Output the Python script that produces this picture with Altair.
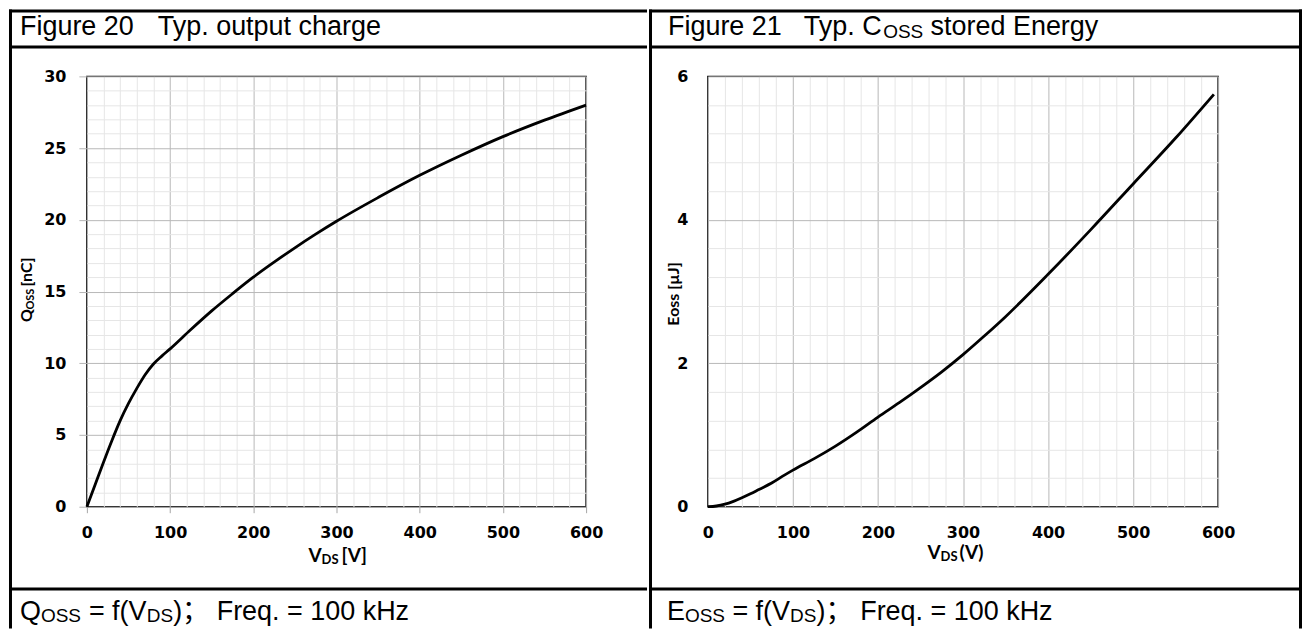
import altair as alt
import pandas as pd

# ---------------- data ----------------
# Figure 20: typical output charge Q_OSS [nC] vs V_DS [V]
q_vds = [0, 10, 20, 30, 40, 50, 60, 70, 80, 90, 100, 125, 150, 175, 200, 225,
         250, 275, 300, 350, 400, 450, 500, 550, 600]
q_oss = [0, 1.55, 3.1, 4.6, 6.0, 7.2, 8.25, 9.2, 9.95, 10.5, 11.0, 12.35, 13.65,
         14.85, 16.0, 17.05, 18.05, 19.0, 19.9, 21.55, 23.1, 24.5, 25.8, 26.95, 28.0]

# Figure 21: typical Coss stored energy E_OSS [uJ] vs V_DS [V]
e_vds = [0, 10, 20, 30, 40, 50, 60, 75, 90, 100, 125, 150, 175, 200, 225, 250,
         275, 300, 325, 350, 400, 450, 500, 550, 595]
e_oss = [0, 0.01, 0.035, 0.075, 0.125, 0.18, 0.24, 0.33, 0.44, 0.51, 0.67, 0.845,
         1.04, 1.25, 1.45, 1.66, 1.88, 2.12, 2.38, 2.65, 3.24, 3.86, 4.50, 5.14, 5.75]

vds_major = [0, 100, 200, 300, 400, 500, 600]
vds_minor = [20, 40, 60, 80, 120, 140, 160, 180, 220, 240, 260, 280, 320, 340,
             360, 380, 420, 440, 460, 480, 520, 540, 560, 580]
q_major = [0, 5, 10, 15, 20, 25, 30]
q_minor = [1, 2, 3, 4, 6, 7, 8, 9, 11, 12, 13, 14, 16, 17, 18, 19, 21, 22, 23,
           24, 26, 27, 28, 29]
e_major = [0, 2, 4, 6]
e_minor = [0.4, 0.8, 1.2, 1.6, 2.4, 2.8, 3.2, 3.6, 4.4, 4.8, 5.2, 5.6]

fig20_num = "Figure 20"
fig20_title = "Typ. output charge"
fig21_num = "Figure 21"

# ---------------- styling ----------------
TABLE_FONT = "Liberation Sans, Arial, Noto Sans CJK SC, sans-serif"
TICK_FONT = "DejaVu Sans"
TITLE_FONT = "Lato"
MAJOR = "#b8b8b8"
MINOR = "#e6e6e6"

one = pd.DataFrame({"k": [0]})


def bar(x1, x2, y1, y2):
    return alt.Chart(one).mark_rect(color="black").encode(
        x=alt.value(x1), x2=alt.value(x2), y=alt.value(y1), y2=alt.value(y2))


def label(s, x, y, size, font=TABLE_FONT, weight="normal", angle=None,
          align="left"):
    kw = dict(text=s, font=font, fontSize=size, fontWeight=weight,
              align=align, baseline="alphabetic", color="black")
    if angle is not None:
        kw["angle"] = angle
    return alt.Chart(one).mark_text(**kw).encode(x=alt.value(x), y=alt.value(y))


def plot_layers(df, yfield, ydom, ymaj, ymin, tick_x, tick_y, xlabpad, ylabpad):
    xs = alt.Scale(domain=[0, 600], nice=False, zero=False)
    ys = alt.Scale(domain=ydom, nice=False, zero=False)
    base = alt.Chart(df)
    minor = base.mark_line(strokeOpacity=0).encode(
        x=alt.X("vds", type="quantitative", scale=xs,
                axis=alt.Axis(orient="bottom", values=vds_minor, grid=True,
                              gridColor=MINOR, gridWidth=1, labels=False,
                              ticks=False, domain=False, title=None)),
        y=alt.Y(yfield, type="quantitative", scale=ys,
                axis=alt.Axis(orient="left", values=ymin, grid=True,
                              gridColor=MINOR, gridWidth=1, labels=False,
                              ticks=False, domain=False, title=None)),
    )
    major = base.mark_line(color="black", strokeWidth=2.8,
                           interpolate="monotone").encode(
        x=alt.X("vds", type="quantitative", scale=xs,
                axis=alt.Axis(orient="bottom", values=vds_major, grid=True,
                              gridColor=MAJOR, gridWidth=1,
                              labelFont=TICK_FONT, labelFontSize=16,
                              labelFontWeight="bold", labelColor="black",
                              labelFlush=False, labelOverlap=False,
                              labelPadding=xlabpad, ticks=tick_x > 0,
                              tickSize=tick_x, tickColor="#a6a6a6",
                              domain=False, title=None, format="d")),
        y=alt.Y(yfield, type="quantitative", scale=ys,
                axis=alt.Axis(orient="left", values=ymaj, grid=True,
                              gridColor=MAJOR, gridWidth=1,
                              labelFont=TICK_FONT, labelFontSize=16,
                              labelFontWeight="bold", labelColor="black",
                              labelFlush=False, labelOverlap=False,
                              labelPadding=ylabpad, ticks=tick_y > 0,
                              tickSize=tick_y, tickColor="#b5b5b5",
                              domain=False, title=None, format="d")),
    )
    return [minor, major]


df_q = pd.DataFrame({"vds": q_vds, "q": q_oss})
df_e = pd.DataFrame({"vds": e_vds, "e": e_oss})

# ---------------- left panel (Figure 20) ----------------
left = alt.layer(
    *plot_layers(df_q, "q", [0, 30], q_major, q_minor, 6, 8, 12, 13),
    bar(-78, -75, -67, 553),
    bar(-78, 561, -67, -64),
    bar(-78, 561, -31, -28),
    bar(-78, 561, 512, 515),
    label(fig20_num, -67, -41, 27),
    label(fig20_title, 71, -41, 27),
    # y title  Q_OSS [nC]
    label("Q", -55, 246, 16, TITLE_FONT, "bold", 270),
    label("OSS", -53, 233.5, 11, TITLE_FONT, "bold", 270),
    label("[nC]", -55, 210.5, 16, TITLE_FONT, "bold", 270),
    # x title  V_DS [V]
    label("V", 222, 486, 19, TITLE_FONT, "bold"),
    label("DS", 235, 488, 13, TITLE_FONT, "bold"),
    label("[V]", 255, 486, 19, TITLE_FONT, "bold"),
    # footer
    label("Q", -67, 544, 27),
    label("OSS", -46, 546, 19),
    label("= f(V", 2, 544, 27),
    label("DS", 60, 546, 19),
    label(")；", 86.4, 544, 27),
    label("Freq. = 100 kHz", 130, 544, 27),
).resolve_axis(x="independent", y="independent").properties(width=500, height=431)

# ---------------- right panel (Figure 21) ----------------
right = alt.layer(
    *plot_layers(df_e, "e", [0, 6], e_major, e_minor, 0, 0, 18, 20),
    bar(-59, -56, -67, 553),
    bar(-59, 595, -67, -64),
    bar(-59, 595, -31, -28),
    bar(-59, 595, 512, 515),
    bar(592, 595, -67, 553),
    label(fig21_num, -40, -41, 27),
    label("Typ. C", 96, -41, 27),
    label("OSS", 175.5, -38, 19),
    label("stored Energy", 223, -41, 27),
    # y title
    label("Eoss [\u00b5J]", -29, 218, 16, TITLE_FONT, "bold", 270, "center"),
    # x title  V_DS(V)
    label("V", 220, 483, 19, TITLE_FONT, "bold"),
    label("DS", 233, 485, 13, TITLE_FONT, "bold"),
    label("(V)", 252, 483, 19, TITLE_FONT, "bold"),
    # footer
    label("E", -41, 544, 27),
    label("OSS", -23, 546, 19),
    label("= f(V", 24.5, 544, 27),
    label("DS", 82.3, 546, 19),
    label(")；", 108.7, 544, 27),
    label("Freq. = 100 kHz", 152.5, 544, 27),
).resolve_axis(x="independent", y="independent").properties(width=511, height=431)

chart = alt.hconcat(left, right, spacing=0, padding=0, background="white") \
    .configure_view(stroke="black", strokeWidth=1.5)

chart.save("out.html", embed_options={"renderer": "svg", "actions": False})
